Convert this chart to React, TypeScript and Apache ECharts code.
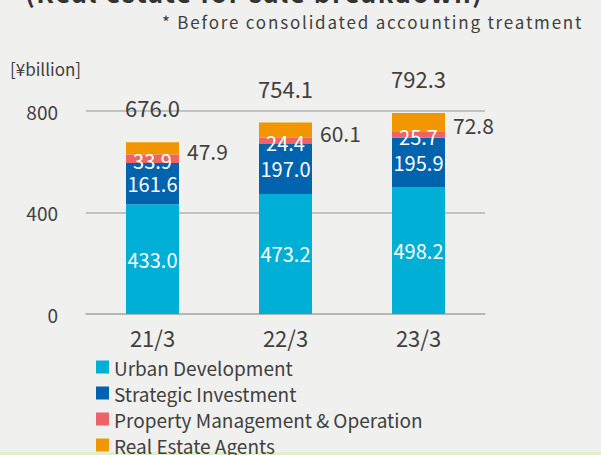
import React, { useEffect, useRef } from "react";
import * as echarts from "echarts";

const categories = ["21/3", "22/3", "23/3"];
const urbanDevelopment = [433.0, 473.2, 498.2];
const strategicInvestment = [161.6, 197.0, 195.9];
const propertyManagement = [33.9, 24.4, 25.7];
const realEstateAgents = [47.9, 60.1, 72.8];
const totals = [676.0, 754.1, 792.3];
const seriesNames = [
  "Urban Development",
  "Strategic Investment",
  "Property Management & Operation",
  "Real Estate Agents",
];
const yTicks = [0, 400, 800];

const FONT = "Noto Sans CJK JP";
const TEXT = "#404040";
const TITLE = "(Real estate for sale breakdown)";
const SUBTITLE = "* Before consolidated accounting treatment";

export default function App() {
  const ref = useRef<HTMLDivElement>(null);
  useEffect(() => {
    if (!ref.current) return;
    const chart = echarts.init(ref.current, null, { renderer: "svg" });
    const fmt = (v: any) => Number(v.value).toFixed(1);
    const colors = ["#00AFD5", "#0063AD", "#EE6367", "#F29600"];
    const datas = [urbanDevelopment, strategicInvestment, propertyManagement, realEstateAgents];
    chart.setOption({
      animation: false,
      backgroundColor: "#F0F0EE",
      textStyle: { fontFamily: FONT },
      grid: { left: 86, right: 116, top: 111, bottom: 141 },
      legend: {
        data: seriesNames,
        orient: "vertical",
        left: 96,
        top: 357,
        height: 140,
        padding: 0,
        itemWidth: 13,
        itemHeight: 13,
        itemGap: 6,
        icon: "rect",
        textStyle: { color: TEXT, fontSize: 19, fontFamily: FONT, lineHeight: 20 },
      },
      xAxis: {
        type: "category",
        data: categories,
        axisTick: { show: false },
        axisLine: { lineStyle: { color: "#B3B3B3", width: 1.5 } },
        axisLabel: { color: TEXT, fontSize: 22, margin: 12, fontFamily: FONT },
      },
      yAxis: {
        type: "value",
        min: yTicks[0],
        max: yTicks[yTicks.length - 1],
        interval: 400,
        axisLine: { show: false },
        axisTick: { show: false },
        splitLine: { lineStyle: { color: "#B3B3B3", width: 1.5 } },
        axisLabel: { color: TEXT, fontSize: 19, margin: 28, fontFamily: FONT },
      },
      graphic: [
        {
          type: "text",
          left: 25,
          top: -22,
          style: {
            text: TITLE,
            fontSize: 26,
            fontWeight: "bold",
            fill: "#333333",
            fontFamily: FONT,
          },
        },
        {
          type: "text",
          left: 162,
          top: 13,
          style: {
            text: SUBTITLE,
            fontSize: 17,
            fill: TEXT,
            fontFamily: FONT,
          },
        },
        {
          type: "text",
          left: 10,
          top: 60,
          style: { text: "[¥billion]", fontSize: 17, fill: TEXT, fontFamily: FONT },
        },
        {
          type: "rect",
          left: 0,
          bottom: 0,
          shape: { width: 601, height: 3 },
          style: { fill: "#DDF0CC" },
        },
      ],
      series: [
        ...datas.map((d, i) => ({
          name: seriesNames[i],
          type: "bar",
          stack: "total",
          barWidth: 53,
          data: d,
          itemStyle: { color: colors[i] },
          label:
            i === 3
              ? {
                  show: true,
                  position: "right",
                  distance: 8,
                  offset: [0, 3],
                  color: TEXT,
                  fontSize: 21,
                  fontFamily: FONT,
                  formatter: fmt,
                }
              : {
                  show: true,
                  position: "inside",
                  offset: i === 2 ? [0, 2] : [0, 0],
                  color: "#FFFFFF",
                  fontSize: 20,
                  fontFamily: FONT,
                  formatter: fmt,
                },
        })),
        {
          name: "total",
          type: "scatter",
          data: totals,
          symbolSize: 0,
          itemStyle: { color: TEXT, opacity: 1 },
          label: {
            show: true,
            position: "top",
            distance: 24,
            color: TEXT,
            fontSize: 22,
            fontFamily: FONT,
            formatter: fmt,
          },
        },
      ],
    });
    // letter spacing for the heading texts (not supported by the text style)
    const texts = ref.current.querySelectorAll("text");
    texts.forEach((t) => {
      const s = t.textContent || "";
      if (s === SUBTITLE) t.setAttribute("letter-spacing", "1.8");
      if (s === TITLE) t.setAttribute("letter-spacing", "1.5");
    });
    return () => chart.dispose();
  }, []);
  return (
    <div
      ref={ref}
      style={{ position: "fixed", left: 0, top: 0, width: 601, height: 455 }}
    />
  );
}
